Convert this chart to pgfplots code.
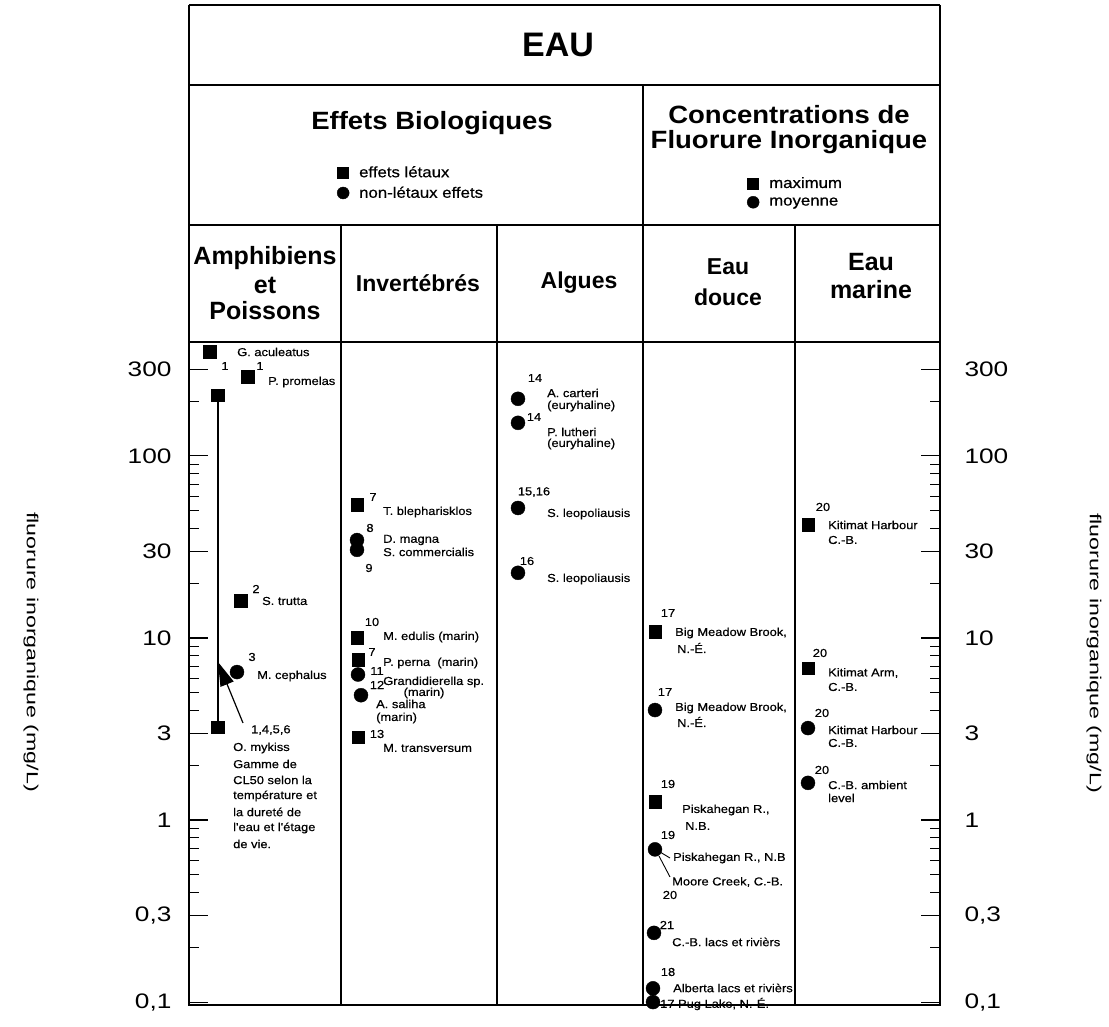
\documentclass[border=0pt]{standalone}
\usepackage{fontspec}
\setmainfont{Liberation Sans}
\newfontfamily\wfont[FakeStretch=1.12,FakeBold=0.5]{Liberation Sans}
\newfontfamily\tfont[FakeStretch=1.25]{Liberation Sans}
\newfontfamily\yfont[FakeStretch=1.45]{Liberation Sans}
\newfontfamily\hfont[FakeStretch=1.1]{Liberation Sans}
\usepackage{pgfplots}
\usepackage{pgfplotstable}
\pgfplotsset{compat=1.18}
\usetikzlibrary{arrows.meta}

\newcommand\lbl{\wfont\fontsize{11.5}{13}\selectfont}
\newcommand\hdr{\bfseries\fontsize{25}{27}\selectfont}
\newcommand\hdrs{\bfseries\fontsize{23}{25}\selectfont}
\newcommand\tophdr{\hfont\bfseries\fontsize{25}{27}\selectfont}
\newcommand\lgd{\wfont\fontsize{15}{17}\selectfont}
\newcommand\tck{\tfont\fontsize{21}{21}\selectfont}

% lethal effects (squares)
\pgfplotstableread{
x y
210 373
248 272
218 216
241 16.0
218 3.24
357 53.8
357 10.0
358 7.6
358 2.85
}\letaux
% non-lethal effects (circles)
\pgfplotstableread{
x y
237 6.5
357 34.5
357 30.5
358 6.3
361 4.85
518 206
518 152
518 51.8
518 22.8
}\nonletaux
% concentrations maximum (squares)
\pgfplotstableread{
x y
655 10.8
655 1.26
808 41.8
808 6.84
}\concmax
% concentrations moyenne (circles)
\pgfplotstableread{
x y
655 4.02
655 0.69
654 0.24
653 0.119
653 0.1
808 3.2
808 1.6
}\concmoy

\begin{document}
\begin{tikzpicture}
\begin{axis}[
  at={(0,0)}, anchor=south west,
  scale only axis, width=751pt, height=663pt,
  xmin=189, xmax=940, ymode=log, ymin=0.0964, ymax=422.7,
  xtick=\empty,
  ytick={0.1,0.3,1,3,10,30,100,300},
  yticklabels={{0,1},{0,3},1,3,10,30,100,300},
  clip=false,
  minor ytick={0.2,0.4,0.5,0.6,0.7,0.8,0.9,2,4,5,6,7,8,9,20,40,50,60,70,80,90,200},
  ytick pos=both, yticklabel pos=left,
  tick align=inside,
  major tick length=19pt, minor tick length=10pt,
  tick style={black, line width=1.1pt},
  axis line style={line width=1.3pt},
  yticklabel style={font=\tck, xshift=-14pt},
  legend style={at={(axis description cs:0.197,1.2685)}, anchor=north west, draw=none, fill=none, font=\lgd, inner sep=0pt, row sep=4pt, nodes={inner sep=2pt}, /tikz/every odd column/.append style={column sep=8pt}},
  legend cell align=left,
]
\addlegendimage{only marks, mark=square*, mark size=5.5pt, black}
\addlegendentry{effets létaux}
\addlegendimage{only marks, mark=*, mark size=6pt, black}
\addlegendentry{non-létaux effets}
\addplot[forget plot, black, line width=1.4pt] coordinates {(218,3.24) (218,216)};
\addplot[forget plot, only marks, mark=square*, mark size=6.3pt, black] table {\letaux};
\addplot[forget plot, only marks, mark=*, mark size=7pt, black] table {\nonletaux};
\addplot[forget plot, only marks, mark=square*, mark size=6.3pt, black] table {\concmax};
\addplot[forget plot, only marks, mark=*, mark size=7pt, black] table {\concmoy};
\end{axis}
\begin{axis}[
  at={(0,0)}, anchor=south west,
  scale only axis, width=751pt, height=663pt,
  xmin=189, xmax=940, ymode=log, ymin=0.0964, ymax=422.7,
  xtick=\empty,
  ytick={0.1,0.3,1,3,10,30,100,300},
  yticklabels={{0,1},{0,3},1,3,10,30,100,300},
  clip=false,
  ytick pos=right, yticklabel pos=right,
  axis line style={draw=none}, tick style={draw=none},
  yticklabel style={font=\tck, xshift=21pt},
  legend style={at={(axis description cs:0.743,1.252)}, anchor=north west, draw=none, fill=none, font=\lgd, inner sep=0pt, row sep=4pt, nodes={inner sep=2pt}, /tikz/every odd column/.append style={column sep=8pt}},
  legend cell align=left,
]
\addlegendimage{only marks, mark=square*, mark size=5.5pt, black}
\addlegendentry{maximum}
\addlegendimage{only marks, mark=*, mark size=6pt, black}
\addlegendentry{moyenne}
\end{axis}

\begin{scope}[x=1pt,y=-1pt,shift={(-189pt,1005pt)}]
% header grid
\draw[line width=1.3pt] (189,5) -- (940,5);
\draw[line width=1.3pt] (189,85) -- (940,85);
\draw[line width=1.3pt] (189,225) -- (940,225);
\draw[line width=1.3pt] (189,5) -- (189,342);
\draw[line width=1.3pt] (940,5) -- (940,342);
\draw[line width=1.4pt] (643,85) -- (643,1005);
\draw[line width=1.1pt] (341,225) -- (341,1005);
\draw[line width=1.4pt] (497,225) -- (497,1005);
\draw[line width=1.1pt] (795,225) -- (795,1005);
% header texts
\node[font=\bfseries\fontsize{34}{34}\selectfont] at (558,45) {EAU};
\node[font=\tophdr] at (432,123) {Effets Biologiques};
\node[font=\tophdr] at (789,115) {Concentrations de};
\node[font=\tophdr] at (789,142) {Fluorure Inorganique};
\node[font=\hdr] at (265,258) {Amphibiens};
\node[font=\hdr] at (265,285) {et};
\node[font=\hdr] at (265,311) {Poissons};
\node[font=\hdrs] at (418,283) {Invertébrés};
\node[font=\hdrs] at (579,283) {Algues};
\node[font=\hdrs] at (728,267) {Eau};
\node[font=\hdrs] at (728,297) {douce};
\node[font=\hdr] at (871,262) {Eau};
\node[font=\hdr] at (871,290) {marine};
% y labels
\node[rotate=-90, font=\yfont\fontsize{16}{16}\selectfont] at (31,652) {fluorure inorganique (mg/L)};
\node[rotate=-90, font=\yfont\fontsize{16}{16}\selectfont] at (1094,653) {fluorure inorganique (mg/L)};
% arrow and leader lines
\draw[line width=1.2pt, -{Triangle[length=24pt,width=14pt]}] (243,723) -- (218,662);
\draw[line width=0.9pt] (660,852) -- (670,858);
\draw[line width=0.9pt] (659,856) -- (670,877);
% data labels
\begin{scope}[every node/.style={font=\lbl, inner sep=0pt}]
\node[anchor=west] at (237,352) {G. aculeatus};
\node at (225,366) {1};
\node at (260,366) {1};
\node[anchor=west] at (268,382) {P. promelas};
\node at (256,589) {2};
\node[anchor=west] at (262,601) {S. trutta};
\node at (252,657) {3};
\node[anchor=west] at (257,676) {M. cephalus};
\node[anchor=west] at (251,730) {1,4,5,6};
\node[anchor=west] at (233,748) {O. mykiss};
\node[anchor=west] at (233,764) {Gamme de};
\node[anchor=west] at (233,780) {CL50 selon la};
\node[anchor=west] at (233,796) {température et};
\node[anchor=west] at (233,812) {la dureté de};
\node[anchor=west] at (233,828) {l'eau et l'étage};
\node[anchor=west] at (233,844) {de vie.};
% invertebres
\node at (373,497) {7};
\node[anchor=west] at (383,512) {T. blepharisklos};
\node at (370,528) {8};
\node[anchor=west] at (383,540) {D. magna};
\node[anchor=west] at (383,552) {S. commercialis};
\node at (369,568) {9};
\node at (372,622) {10};
\node[anchor=west] at (383,637) {M. edulis (marin)};
\node at (372,652) {7};
\node[anchor=west] at (383,663) {P. perna\ \ (marin)};
\node at (377,671) {11};
\node[anchor=west] at (383,682) {Grandidierella sp.};
\node at (377,685) {12};
\node at (424,693) {(marin)};
\node[anchor=west] at (376,704) {A. saliha};
\node[anchor=west] at (376,718) {(marin)};
\node at (377,734) {13};
\node[anchor=west] at (383,748) {M. transversum};
% algues
\node at (535,378) {14};
\node[anchor=west] at (547,393) {A. carteri};
\node[anchor=west] at (547,406) {(euryhaline)};
\node at (534,417) {14};
\node[anchor=west] at (547,432) {P. lutheri};
\node[anchor=west] at (547,444) {(euryhaline)};
\node at (534,492) {15,16};
\node[anchor=west] at (547,514) {S. leopoliausis};
\node at (527,561) {16};
\node[anchor=west] at (547,579) {S. leopoliausis};
% eau douce
\node at (668,613) {17};
\node[anchor=west] at (675,633) {Big Meadow Brook,};
\node[anchor=west] at (677,648) {N.-É.};
\node at (665,692) {17};
\node[anchor=west] at (675,708) {Big Meadow Brook,};
\node[anchor=west] at (677,722) {N.-É.};
\node at (668,784) {19};
\node[anchor=west] at (682,810) {Piskahegan R.,};
\node[anchor=west] at (685,826) {N.B.};
\node at (668,835) {19};
\node[anchor=west] at (673,858) {Piskahegan R., N.B};
\node[anchor=west] at (672,882) {Moore Creek, C.-B.};
\node at (670,895) {20};
\node at (667,925) {21};
\node[anchor=west] at (672,942) {C.-B. lacs et rivièrs};
\node at (668,972) {18};
\node[anchor=west] at (673,988) {Alberta lacs et rivièrs};
\node[anchor=west] at (660,1004) {17 Pug Lake, N.-É.};
% eau marine
\node at (823,507) {20};
\node[anchor=west] at (828,525) {Kitimat Harbour};
\node[anchor=west] at (828,540) {C.-B.};
\node at (820,653) {20};
\node[anchor=west] at (828,673) {Kitimat Arm,};
\node[anchor=west] at (828,687) {C.-B.};
\node at (822,713) {20};
\node[anchor=west] at (828,730) {Kitimat Harbour};
\node[anchor=west] at (828,743) {C.-B.};
\node at (822,770) {20};
\node[anchor=west] at (828,785) {C.-B. ambient};
\node[anchor=west] at (828,798) {level};
\end{scope}
\pgfresetboundingbox
\path[use as bounding box] (0,0) rectangle (1109,1027);
\end{scope}
\end{tikzpicture}
\end{document}
